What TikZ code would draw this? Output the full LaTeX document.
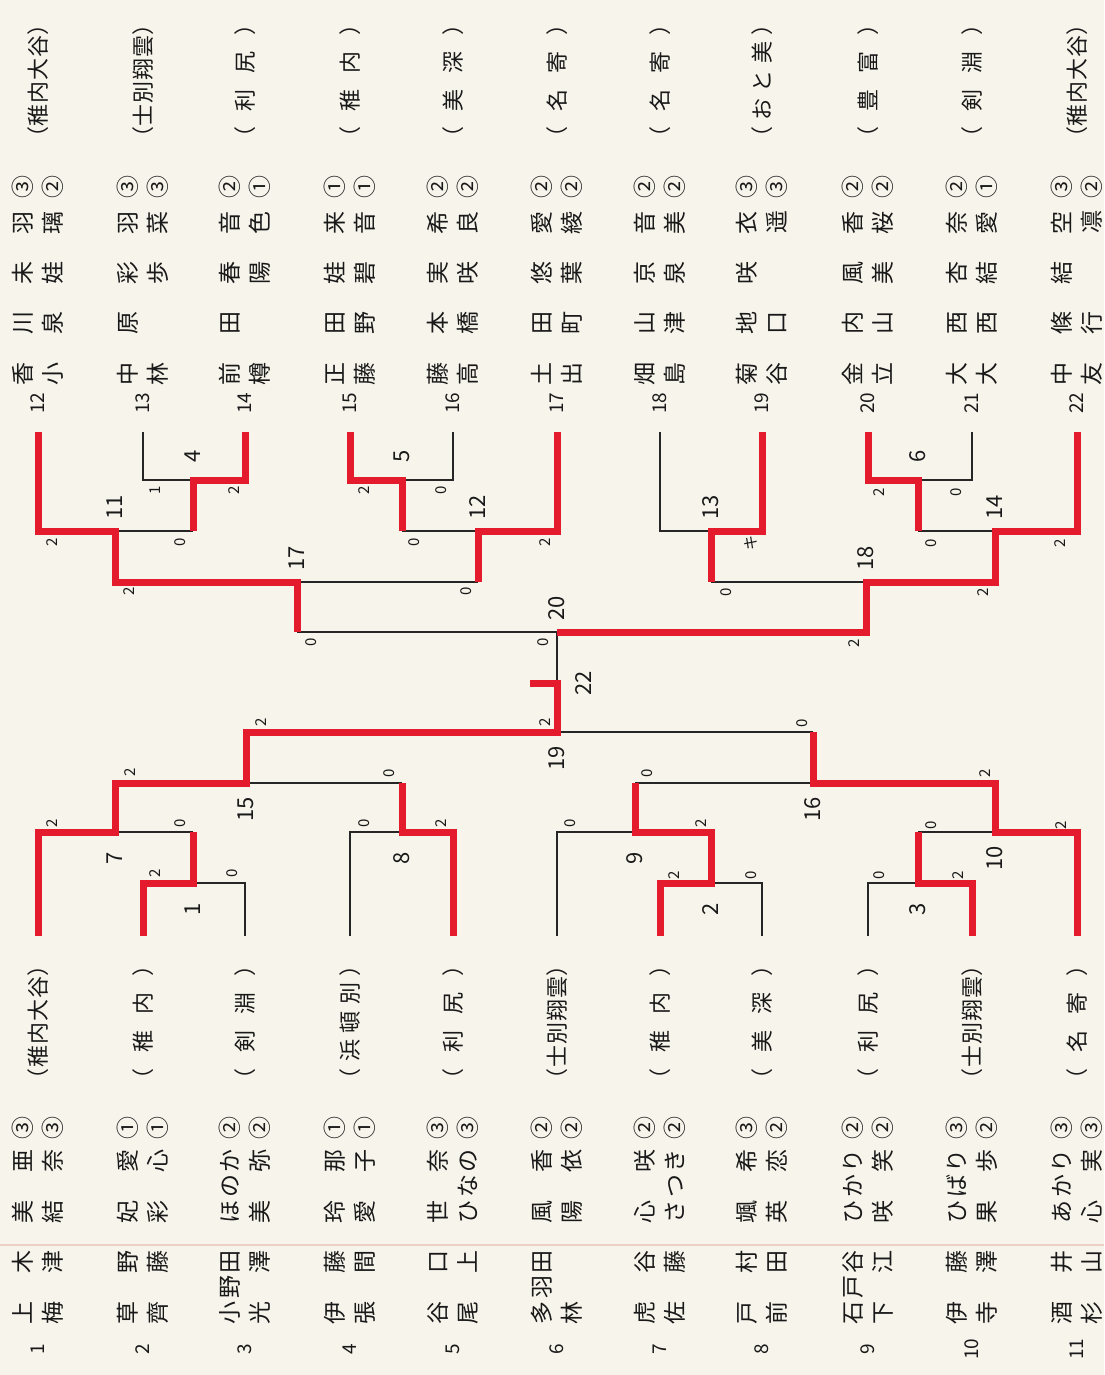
\documentclass[tikz,border=0pt]{standalone}
\usepackage{fontspec}
\setmainfont{Noto Sans CJK JP}
\definecolor{paper}{HTML}{F7F4EB}
\definecolor{winred}{HTML}{E41B2D}
\definecolor{fold}{HTML}{EDCFC4}

\tikzset{
  win/.style={draw=winred, line width=3.5pt, line join=miter},
  lose/.style={draw=black!85, line width=1.1pt},
  txt/.style={rotate=90, inner sep=0pt, text=black!90},
  pname/.style={txt, font=\fontsize{11.5}{11.5}\selectfont},
  school/.style={txt, font=\fontsize{11}{11}\selectfont},
  seed/.style={txt, font=\fontsize{9.5}{9.5}\selectfont},
  match/.style={txt, font=\fontsize{11}{11}\selectfont},
  score/.style={txt, font=\fontsize{7.5}{7.5}\selectfont},
}

% x, seed, name1, given1, grade1, name2, given2, grade2, school
\newcommand{\topentry}[9]{%
  \node[seed] (s#2) at (#1,403) {#2};
  \node[pname] (a#2) at ({#1-15},348) {\makebox[37pt]{#3}};
  \node[pname] (b#2) at ({#1-15},248) {\makebox[37pt]{#4}};
  \node[pname] (c#2) at ({#1-15},187) {#5};
  \node[pname] (d#2) at ({#1+15},348) {\makebox[37pt]{#6}};
  \node[pname] (f#2) at ({#1+15},248) {\makebox[37pt]{#7}};
  \node[pname] (g#2) at ({#1+15},187) {#8};
  \node[school] (h#2) at (#1,81) {\makebox[68pt]{#9}};
}
\newcommand{\botentry}[9]{%
  \node[seed] (s#2) at (#1,1349) {#2};
  \node[pname] (a#2) at ({#1-15},1287) {\makebox[37pt]{#3}};
  \node[pname] (b#2) at ({#1-15},1186) {\makebox[37pt]{#4}};
  \node[pname] (c#2) at ({#1-15},1128) {#5};
  \node[pname] (d#2) at ({#1+15},1287) {\makebox[37pt]{#6}};
  \node[pname] (f#2) at ({#1+15},1186) {\makebox[37pt]{#7}};
  \node[pname] (g#2) at ({#1+15},1128) {#8};
  \node[school] (h#2) at (#1,1022) {\makebox[68pt]{#9}};
}

\begin{document}
\begin{tikzpicture}[x=0.5pt, y=-0.5pt]
\fill[paper] (0,0) rectangle (1104,1375);
\useasboundingbox (0,0) rectangle (1104,1375);
\draw[fold, line width=1pt] (0,1245) -- (1104,1245);

\foreach \n/\x in {12/38,13/143,14/245,15/350,16/453,17/557,18/660,19/762,20/868,21/972,22/1077}
  \coordinate (e\n) at (\x,432);
\foreach \n/\x in {1/38,2/143,3/245,4/350,5/453,6/557,7/660,8/762,9/868,10/972,11/1077}
  \coordinate (e\n) at (\x,936);

% junctions
\coordinate (m4) at (193,480);  \coordinate (m5) at (402,480);  \coordinate (m6) at (918,480);
\coordinate (m11) at (115,531); \coordinate (m12) at (478,531); \coordinate (m13) at (711,531);
\coordinate (m14) at (995,531); \coordinate (m17) at (297,582); \coordinate (m18) at (866,582);
\coordinate (m20) at (557,632); \coordinate (m22) at (557,683); \coordinate (c22) at (530,683);
\coordinate (m1) at (193,883);  \coordinate (m2) at (711,883);  \coordinate (m3) at (918,883);
\coordinate (m7) at (115,832);  \coordinate (m8) at (402,832);  \coordinate (m9) at (635,832);
\coordinate (m10) at (995,832); \coordinate (m15) at (246,783); \coordinate (m16) at (813,783);
\coordinate (m19) at (557,732);

% lost lines
\draw[lose] (e13) |- (m4);
\draw[lose] (m4 |- m11) -- (m11);
\draw[lose] (m17 |- m20) -- (m20);
\draw[lose] (e16) |- (m5);
\draw[lose] (m5 |- m12) -- (m12);
\draw[lose] (m12 |- m17) -- (m17);
\draw[lose] (e18) |- (m13);
\draw[lose] (m13 |- m18) -- (m18);
\draw[lose] (e21) |- (m6);
\draw[lose] (m6 |- m14) -- (m14);
\draw[lose] (m20) -- (m22);
\draw[lose] (e3) |- (m1);
\draw[lose] (m1 |- m7) -- (m7);
\draw[lose] (e4) |- (m8);
\draw[lose] (m8 |- m15) -- (m15);
\draw[lose] (e8) |- (m2);
\draw[lose] (e6) |- (m9);
\draw[lose] (m9 |- m16) -- (m16);
\draw[lose] (e9) |- (m3);
\draw[lose] (m3 |- m10) -- (m10);
\draw[lose] (m16 |- m19) -- (m19);

% won lines
\draw[win] (e14) |- (m4) -- (m4 |- m11);
\draw[win] (e12) |- (m11) |- (m17) -- (m17 |- m20);
\draw[win] (e15) |- (m5) -- (m5 |- m12);
\draw[win] (e17) |- (m12) -- (m12 |- m17);
\draw[win] (e19) |- (m13) -- (m13 |- m18);
\draw[win] (e20) |- (m6) -- (m6 |- m14);
\draw[win] (e22) |- (m14) |- (m18) |- (m20);
\draw[win] (e2) |- (m1) -- (m1 |- m7);
\draw[win] (e1) |- (m7) |- (m15) |- (m19) -- (m22) -- (c22);
\draw[win] (e5) |- (m8) -- (m8 |- m15);
\draw[win] (e7) |- (m2) |- (m9) -- (m9 |- m16);
\draw[win] (e10) |- (m3) -- (m3 |- m10);
\draw[win] (e11) |- (m10) |- (m16) -- (m16 |- m19);

% match numbers
\foreach \m in {4,5,6,11,12,13,14,17,18,20}
  \node[match] (l\m) at ([yshift=12pt]m\m) {\m};
\foreach \m in {1,2,3,7,8,9,10,15,16,19}
  \node[match] (l\m) at ([yshift=-13pt]m\m) {\m};
\node[match] (l22) at ([xshift=13.5pt]m22) {22};

% scores
\foreach \nm/\x/\y/\t in {r4a/155/490/1, r4b/234/490/2, r11a/52/542/2, r11b/180/542/0,
    r5a/364/490/2, r5b/441/490/0, r12a/414/542/0, r12b/545/542/2, r17a/129/591/2,
    r17b/466/591/0, r20a/311/642/0, r20b/854/643/2, r22a/543/642/0, r22b/545/722/2,
    r13b/751/543/キ, r6a/879/492/2, r6b/956/492/0, r14a/931/543/0, r14b/1060/543/2,
    r18a/726/592/0, r18b/983/592/2, r1a/155/873/2, r1b/232/873/0, r7a/52/823/2,
    r7b/180/823/0, r8a/364/823/0, r8b/441/823/2, r15a/130/772/2, r15b/389/773/0,
    r19a/261/722/2, r19b/802/723/0, r2a/674/875/2, r2b/751/875/0, r9a/570/823/0,
    r9b/701/823/2, r3a/879/875/0, r3b/958/875/2, r10a/931/825/0, r10b/1061/825/2,
    r16a/647/773/0, r16b/985/773/2}
  \node[score] (\nm) at (\x,\y) {\t};

% upper entries
\topentry{38}{12}{香\hfill 川}{未\hfill 羽}{③}{小\hfill 泉}{娃\hfill 璃}{②}{（\hfill 稚\hfill 内\hfill 大\hfill 谷\hfill ）}
\topentry{143}{13}{中\hfill 原}{彩\hfill 羽}{③}{林\hfill}{歩\hfill 菜}{③}{（\hfill 士\hfill 別\hfill 翔\hfill 雲\hfill ）}
\topentry{245}{14}{前\hfill 田}{春\hfill 音}{②}{樽\hfill}{陽\hfill 色}{①}{（\hfill 利\hfill 尻\hfill ）}
\topentry{350}{15}{正\hfill 田}{娃\hfill 来}{①}{藤\hfill 野}{碧\hfill 音}{①}{（\hfill 稚\hfill 内\hfill ）}
\topentry{453}{16}{藤\hfill 本}{実\hfill 希}{②}{高\hfill 橋}{咲\hfill 良}{②}{（\hfill 美\hfill 深\hfill ）}
\topentry{557}{17}{土\hfill 田}{悠\hfill 愛}{②}{出\hfill 町}{葉\hfill 綾}{②}{（\hfill 名\hfill 寄\hfill ）}
\topentry{660}{18}{畑\hfill 山}{京\hfill 音}{②}{島\hfill 津}{泉\hfill 美}{②}{（\hfill 名\hfill 寄\hfill ）}
\topentry{762}{19}{菊\hfill 地}{咲\hfill 衣}{③}{谷\hfill 口}{\hfill 遥}{③}{（\hfill お\hfill と\hfill 美\hfill ）}
\topentry{868}{20}{金\hfill 内}{風\hfill 香}{②}{立\hfill 山}{美\hfill 桜}{②}{（\hfill 豊\hfill 富\hfill ）}
\topentry{972}{21}{大\hfill 西}{杏\hfill 奈}{②}{大\hfill 西}{結\hfill 愛}{①}{（\hfill 剣\hfill 淵\hfill ）}
\topentry{1077}{22}{中\hfill 條}{結\hfill 空}{③}{友\hfill 行}{\hfill 凛}{②}{（\hfill 稚\hfill 内\hfill 大\hfill 谷\hfill ）}

% lower entries
\botentry{38}{1}{上\hfill 木}{美\hfill 亜}{③}{梅\hfill 津}{結\hfill 奈}{③}{（\hfill 稚\hfill 内\hfill 大\hfill 谷\hfill ）}
\botentry{143}{2}{草\hfill 野}{妃\hfill 愛}{①}{齊\hfill 藤}{彩\hfill 心}{①}{（\hfill 稚\hfill 内\hfill ）}
\botentry{245}{3}{小\hfill 野\hfill 田}{ほ\hfill の\hfill か}{②}{光\hfill 澤}{美\hfill 弥}{②}{（\hfill 剣\hfill 淵\hfill ）}
\botentry{350}{4}{伊\hfill 藤}{玲\hfill 那}{①}{張\hfill 間}{愛\hfill 子}{①}{（\hfill 浜\hfill 頓\hfill 別\hfill ）}
\botentry{453}{5}{谷\hfill 口}{世\hfill 奈}{③}{尾\hfill 上}{ひ\hfill な\hfill の}{③}{（\hfill 利\hfill 尻\hfill ）}
\botentry{557}{6}{多\hfill 羽\hfill 田}{風\hfill 香}{②}{林\hfill}{陽\hfill 依}{②}{（\hfill 士\hfill 別\hfill 翔\hfill 雲\hfill ）}
\botentry{660}{7}{虎\hfill 谷}{心\hfill 咲}{②}{佐\hfill 藤}{さ\hfill つ\hfill き}{②}{（\hfill 稚\hfill 内\hfill ）}
\botentry{762}{8}{戸\hfill 村}{颯\hfill 希}{③}{前\hfill 田}{英\hfill 恋}{②}{（\hfill 美\hfill 深\hfill ）}
\botentry{868}{9}{石\hfill 戸\hfill 谷}{ひ\hfill か\hfill り}{②}{下\hfill 江}{咲\hfill 笑}{②}{（\hfill 利\hfill 尻\hfill ）}
\botentry{972}{10}{伊\hfill 藤}{ひ\hfill ば\hfill り}{③}{寺\hfill 澤}{果\hfill 歩}{②}{（\hfill 士\hfill 別\hfill 翔\hfill 雲\hfill ）}
\botentry{1077}{11}{酒\hfill 井}{あ\hfill か\hfill り}{③}{杉\hfill 山}{心\hfill 実}{③}{（\hfill 名\hfill 寄\hfill ）}
\end{tikzpicture}
\end{document}
